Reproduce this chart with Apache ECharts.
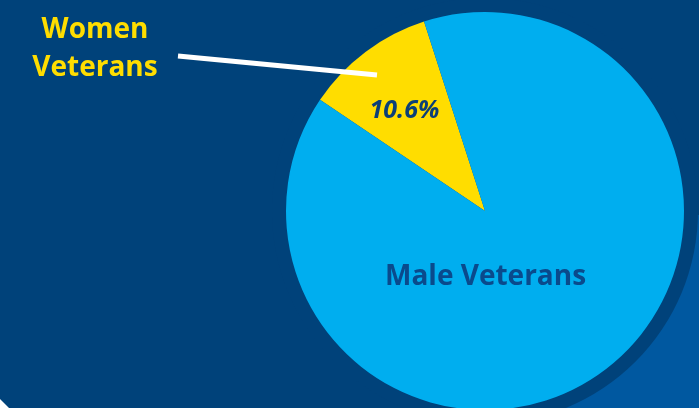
<!DOCTYPE html>
<html>
<head>
<meta charset="utf-8">
<script src="https://cdn.jsdelivr.net/npm/echarts@6/dist/echarts.min.js"></script>
<style>
  html, body { margin: 0; padding: 0; background: #00427a; }
  #chart { width: 699px; height: 408px; }
</style>
</head>
<body>
<div id="chart"></div>
<script>
// Share of veterans by sex
var categories = ['Women Veterans', 'Male Veterans'];
var shares = [10.6, 89.4];
var sliceColors = ['#ffdd00', '#00aeef'];

var PIE_CENTER = [485, 211];
var PIE_RADIUS = 199;

var calloutLines = categories[0].split(' ');
var calloutFont = '700 28px "Open Sans", sans-serif';

var chart = echarts.init(document.getElementById('chart'), null, { renderer: 'canvas' });

chart.setOption({
  backgroundColor: '#00427a',
  animation: false,
  graphic: [
    // lighter panel in the lower right corner
    { type: 'rect', z: 0, shape: { x: 520, y: 215, width: 179, height: 193 }, style: { fill: '#0058a0' } },
    // dark halo behind the pie
    { type: 'circle', z: 1, shape: { cx: PIE_CENTER[0], cy: PIE_CENTER[1], r: 213 }, style: { fill: '#00427a' } },
    // white corner accent
    { type: 'polygon', z: 1, shape: { points: [[0, 399], [9, 408], [0, 408]] }, style: { fill: '#ffffff' } },
    // leader line to the women slice
    { type: 'line', z: 100, shape: { x1: 178, y1: 56, x2: 377, y2: 75 }, style: { stroke: '#ffffff', lineWidth: 5 } },
    // callout text for the women slice, one line per word
    {
      type: 'text', z: 100, x: 95, y: 30,
      style: { text: calloutLines[0], fill: '#ffdd00', font: calloutFont, align: 'center', verticalAlign: 'middle' }
    },
    {
      type: 'text', z: 100, x: 95, y: 68,
      style: { text: calloutLines[1], fill: '#ffdd00', font: calloutFont, align: 'center', verticalAlign: 'middle' }
    }
  ],
  series: [{
    type: 'pie',
    center: PIE_CENTER,
    radius: PIE_RADIUS,
    startAngle: 146,
    clockwise: true,
    silent: true,
    emphasis: { disabled: true },
    labelLine: { show: false },
    data: [
      {
        name: categories[0],
        value: shares[0],
        itemStyle: { color: sliceColors[0] },
        label: {
          show: true,
          position: 'inside',
          formatter: function (p) { return p.value.toFixed(1) + '%'; },
          offset: [-19, -18],
          color: '#0b3f78',
          fontFamily: 'Open Sans',
          fontWeight: 700,
          fontStyle: 'italic',
          fontSize: 25
        }
      },
      {
        name: categories[1],
        value: shares[1],
        itemStyle: { color: sliceColors[1] },
        label: {
          show: true,
          position: 'inside',
          formatter: '{b}',
          offset: [-61, -16],
          color: '#0a4a8c',
          fontFamily: 'Open Sans',
          fontWeight: 700,
          fontSize: 28
        }
      }
    ]
  }]
});
</script>
</body>
</html>
